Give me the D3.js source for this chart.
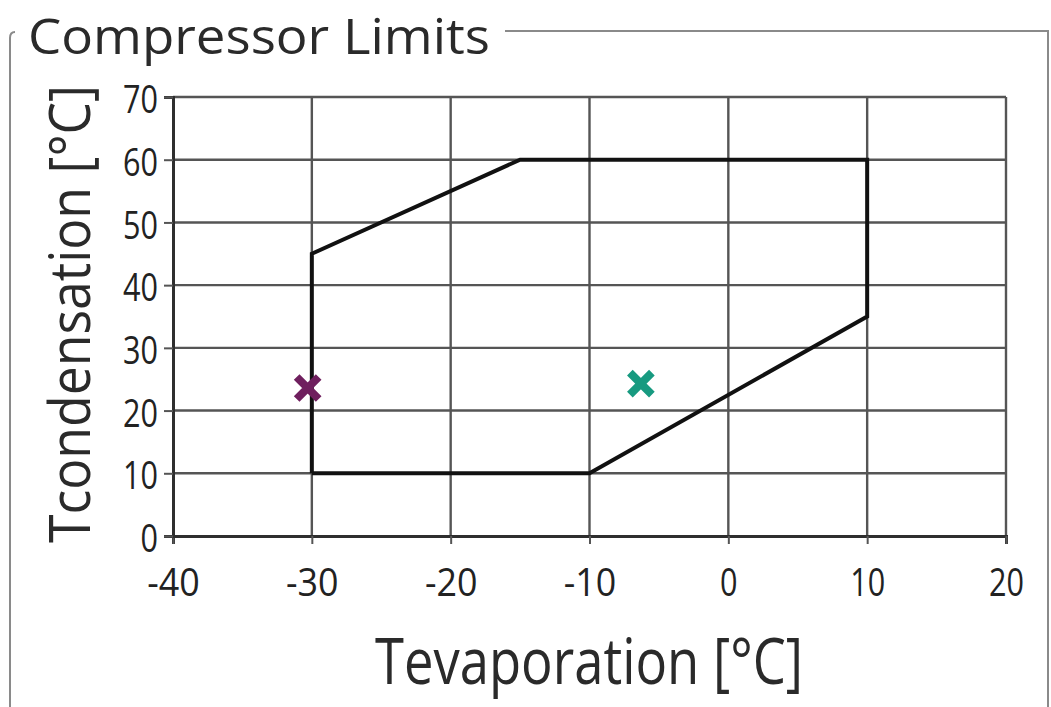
<!DOCTYPE html>
<html><head><meta charset="utf-8">
<script src="https://cdn.jsdelivr.net/npm/d3@7"></script>
<style>
  html,body{margin:0;padding:0;background:#fff;}
  svg{display:block;font-family:"Open Sans","Noto Sans",sans-serif;}
  .grid line{stroke:#555;stroke-width:2.4;}
  .axis text{fill:#222;font-size:39px;}
</style>
</head><body>
<div id="chart"></div>
<script>
// envelope of the compressor (Tevap, Tcond)
const envelope=[[-30,10],[-10,10],[10,35],[10,60],[-15,60],[-30,45],[-30,10]];
// operating points
const points=[{x:-30.3,y:23.6,color:'#6f1f5e'},{x:-6.3,y:24.3,color:'#179a80'}];
const xTicks=[-40,-30,-20,-10,0,10,20];
const yTicks=[0,10,20,30,40,50,60,70];

const W=1051,H=707,m={t:97,r:45,b:171,l:173};
const w=W-m.l-m.r,h=H-m.t-m.b;
const svg=d3.select('#chart').append('svg').attr('width',W).attr('height',H);

// group box frame
svg.append('path').attr('fill','none').attr('stroke','#8a8a8a').attr('stroke-width',2)
  .attr('d',`M505,31 H1048 V707 M10,707 V38 Q10,32 15,32`);
svg.append('text').attr('x',28).attr('y',54).attr('font-size',50).attr('fill','#2a2a2a')
  .attr('textLength',462).attr('lengthAdjust','spacingAndGlyphs').text('Compressor Limits');

const g=svg.append('g').attr('transform',`translate(${m.l},${m.t})`);
const x=d3.scaleLinear().domain([-40,20]).range([0,w]);
const y=d3.scaleLinear().domain([0,70]).range([h,0]);

// grid
g.append('g').attr('class','grid').selectAll('line').data(xTicks.slice(1)).join('line')
  .attr('x1',d=>x(d)).attr('x2',d=>x(d)).attr('y1',0).attr('y2',h);
g.append('g').attr('class','grid').selectAll('line').data(yTicks.slice(1)).join('line')
  .attr('x1',0).attr('x2',w).attr('y1',d=>y(d)).attr('y2',d=>y(d));

// axes
const ax=g.append('g').attr('class','axis').attr('transform',`translate(0,${h})`)
  .call(d3.axisBottom(x).tickValues(xTicks).tickSize(8).tickPadding(24).tickFormat(d=>String(d)));
const ay=g.append('g').attr('class','axis')
  .call(d3.axisLeft(y).tickValues(yTicks).tickSize(9).tickPadding(6).tickFormat(d=>String(d)));
[ax,ay].forEach(a=>{
  a.select('.domain').attr('stroke','#2e2e2e').attr('stroke-width',3);
  a.selectAll('.tick line').attr('stroke','#555').attr('stroke-width',2);
  a.selectAll('text').attr('font-family','"Open Sans","Noto Sans",sans-serif').attr('font-size',39)
    .attr('textLength',function(){return this.textContent.length*17.5;}).attr('lengthAdjust','spacingAndGlyphs');
});
ay.selectAll('text').attr('dy','0.4em');

// envelope
g.append('path').datum(envelope).attr('fill','none').attr('stroke','#111').attr('stroke-width',4)
  .attr('stroke-linejoin','miter').attr('d',d3.line().x(d=>x(d[0])).y(d=>y(d[1])));

// operating point markers
const s=11;
points.forEach(p=>{
  const px=x(p.x),py=y(p.y);
  g.append('path').attr('stroke',p.color).attr('stroke-width',8).attr('fill','none')
    .attr('d',`M${px-s},${py-s}L${px+s},${py+s}M${px+s},${py-s}L${px-s},${py+s}`);
});

// axis titles
svg.append('text').attr('x',375).attr('y',684).attr('font-size',64).attr('fill','#2a2a2a')
  .attr('textLength',428).attr('lengthAdjust','spacingAndGlyphs').text('Tevaporation [°C]');
svg.append('text').attr('transform','translate(90,543) rotate(-90)').attr('font-size',56).attr('fill','#2a2a2a')
  .attr('textLength',458).attr('lengthAdjust','spacingAndGlyphs').text('Tcondensation [°C]');
</script>
</body></html>
